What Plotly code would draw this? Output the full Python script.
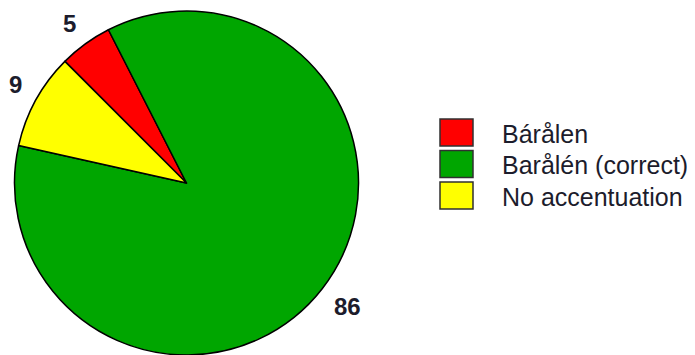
import math
import plotly.graph_objects as go

# ---- data ----
labels = ["Bárålen", "Barålén (correct)", "No accentuation"]
values = [5, 86, 9]
value_text = ["5", "86", "9"]
colors = ["#FF0000", "#00A600", "#FFFF00"]

# ---- layout constants (in reference-window pixels) ----
OFF = 8                    # page body margin of the html page
W, H = 695 - OFF, 355 - OFF
cx, cy, R = 186.5, 183.0, 172.0
start_deg = -45.0          # first slice begins 45 deg counter-clockwise of 12 o'clock
label_r = 187.0            # nearest corner of each value label sits on this radius
LABEL_SIZE = 24


def px(x):
    return (x - OFF) / W


def py(y):
    return 1 - (y - OFF) / H


fig = go.Figure()
fig.add_trace(go.Pie(
    labels=labels,
    values=values,
    sort=False,
    direction="clockwise",
    rotation=start_deg,
    textinfo="none",
    hoverinfo="label+value",
    showlegend=False,
    marker=dict(colors=colors, line=dict(color="#000000", width=1.5)),
    domain=dict(x=[px(cx - R), px(cx + R)], y=[max(0, py(cy + R)), py(cy - R)]),
))

# value labels placed outside each slice at its mid angle (text extends outward)
total = sum(values)
cum = 0.0
annotations = []
for v, t in zip(values, value_text):
    mid = math.radians(start_deg + 360.0 * (cum + v / 2.0) / total)
    cum += v
    sx, sy = math.sin(mid), -math.cos(mid)
    ax = cx + label_r * sx
    ay = cy + label_r * sy
    w = 0.556 * LABEL_SIZE * len(t)
    h = 0.72 * LABEL_SIZE
    x = ax + math.copysign(w / 2, sx)
    y = ay + math.copysign(h / 2, sy)
    annotations.append(dict(
        x=px(x), y=py(y), xref="paper", yref="paper", text=t, showarrow=False,
        xanchor="center", yanchor="middle",
        font=dict(family="Liberation Sans, Arial, sans-serif", size=LABEL_SIZE,
                  color="#1c1c2c", weight="bold"),
    ))

# custom legend
shapes = []
box_x0, box_x1 = 440, 473
row0, pitch, box_h = 119.0, 31.5, 27.0
for i, (lab, col) in enumerate(zip(labels, colors)):
    top = row0 + pitch * i
    shapes.append(dict(
        type="rect", xref="paper", yref="paper",
        x0=px(box_x0), x1=px(box_x1), y0=py(top + box_h), y1=py(top),
        fillcolor=col, line=dict(color="#303030", width=1.5),
    ))
    annotations.append(dict(
        x=px(500), y=py(top + box_h / 2 + 1), xref="paper", yref="paper",
        text=lab, showarrow=False, xanchor="left", yanchor="middle",
        font=dict(family="Liberation Sans, Arial, sans-serif", size=25, color="#1c1c2c"),
    ))

fig.update_layout(
    width=W, height=H,
    margin=dict(l=0, r=0, t=0, b=0),
    paper_bgcolor="white", plot_bgcolor="white",
    annotations=annotations,
    shapes=shapes,
)

fig.write_html("out.html")
